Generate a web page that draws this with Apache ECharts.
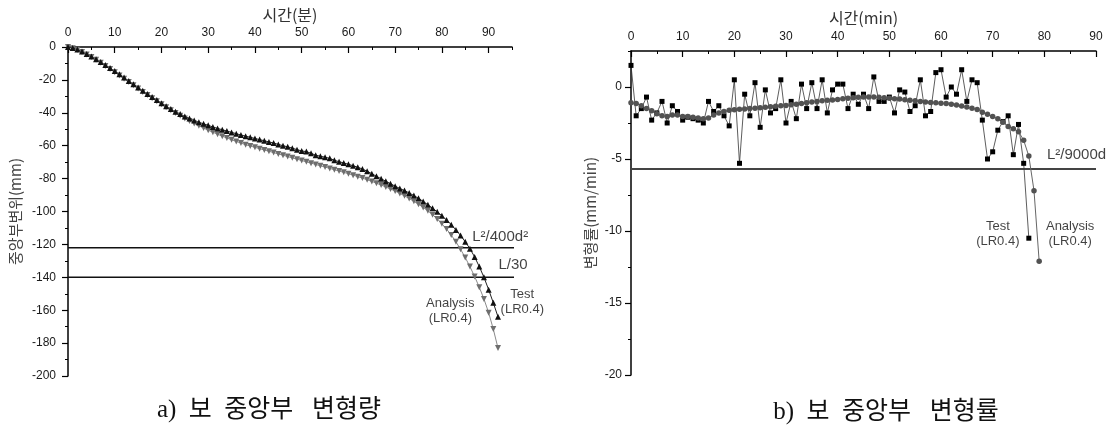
<!DOCTYPE html>
<html>
<head>
<meta charset="utf-8">
<script src="https://cdn.jsdelivr.net/npm/echarts@6/dist/echarts.min.js"></script>
<style>
  html, body { margin: 0; padding: 0; background: #fff; }
  #chart { width: 1118px; height: 430px; }
</style>
</head>
<body>
<div id="chart"></div>
<script>
// Mid-span deflection (mm), one reading per minute from t = 0
const testDeflection = [
  0, -0.6, -1.5, -2.8, -4.2, -5.8, -7.4, -9.1, -10.9, -12.8,
  -14.6, -16.6, -18.6, -20.6, -22.6, -24.6, -26.6, -28.5, -30.4, -32.2,
  -34.2, -36, -37.7, -39.3, -40.8, -42.2, -43.5, -44.7, -45.8, -46.7,
  -47.6, -48.6, -49.5, -50.3, -51.1, -51.9, -52.7, -53.5, -54.2, -54.9,
  -55.6, -56.3, -57, -57.7, -58.4, -59.2, -60, -60.7, -61.5, -62.4,
  -63.2, -63.6, -64.6, -65.8, -66.4, -67, -67.7, -68.9, -69.7, -70.5,
  -71.3, -72.2, -73.1, -74.2, -75.5, -77, -78.6, -80.1, -81.6, -83.1,
  -84.6, -86, -87.3, -88.7, -90.3, -92, -93.9, -95.9, -98, -100.2,
  -102.6, -105.2, -108, -111.2, -114.6, -118.4, -122.6, -127.6, -133.5, -140,
  -147.5, -155.5, -164
];
const analysisDeflection = [
  0, -0.7, -1.7, -3, -4.5, -6.1, -7.8, -9.6, -11.5, -13.4,
  -15.3, -17.3, -19.3, -21.3, -23.3, -25.3, -27.3, -29.2, -31.1, -33,
  -34.8, -36.6, -38.4, -40.1, -41.8, -43.4, -45, -46.5, -47.9, -49.3,
  -50.6, -51.8, -53, -54.2, -55.3, -56.4, -57.4, -58.4, -59.4, -60.2,
  -61, -61.8, -62.6, -63.4, -64.2, -65, -65.8, -66.6, -67.4, -68.2,
  -69, -69.8, -70.6, -71.4, -72.2, -73, -73.8, -74.6, -75.4, -76.2,
  -77, -77.9, -78.8, -79.7, -80.7, -81.7, -82.8, -83.9, -85.1, -86.3,
  -87.6, -89, -90.5, -92.1, -93.8, -95.6, -97.5, -99.6, -101.9, -104.5,
  -107.5, -110.7, -114.3, -118.4, -123, -128, -133.5, -139.5, -146, -153.2,
  -161.5, -171.5, -183
];

// Deflection rate (mm/min), one value per minute from t = 0
const testRate = [
  1.5, -2.0, -1.5, -0.7, -2.3, -1.8, -1.0, -2.5, -1.3, -1.7,
  -2.3, -2.1, -2.2, -2.3, -2.5, -1.0, -1.7, -1.3, -2.0, -2.7,
  0.5, -5.3, -0.5, -2.0, 0.3, -2.8, -0.2, -1.8, -1.5, 0.5,
  -2.5, -1.0, -2.2, 0.2, -1.5, 0.3, -1.5, 0.5, -1.8, -0.2,
  0.2, 0.2, -1.5, -0.5, -1.2, -0.5, -1.5, 0.7, -1.0, -1.0,
  -0.7, -1.8, -0.2, -0.35, -1.7, -1.3, 0.5, -2.0, -1.7, 1.0,
  1.2, -0.7, 0, -0.5, 1.2, -1.0, 0.5, 0.3, -2.3, -5.0,
  -4.5, -3.0, -2.4, -2.0, -4.7, -2.6, -5.3, -10.5
];
const analysisRate = [
  -1.1, -1.15, -1.3, -1.5, -1.65, -1.85, -2.0, -2.05, -1.95, -1.95,
  -2.05, -2.05, -2.1, -2.15, -2.2, -2.15, -1.95, -1.8, -1.7, -1.62,
  -1.58, -1.55, -1.52, -1.5, -1.47, -1.44, -1.4, -1.37, -1.34, -1.31,
  -1.28, -1.24, -1.2, -1.15, -1.1, -1.05, -1.0, -0.95, -0.92, -0.9,
  -0.87, -0.82, -0.78, -0.74, -0.71, -0.69, -0.69, -0.7, -0.72, -0.75,
  -0.78, -0.81, -0.84, -0.88, -0.92, -0.96, -1.0, -1.04, -1.08, -1.1,
  -1.12, -1.15, -1.2, -1.25, -1.32, -1.39, -1.47, -1.57, -1.75, -1.9,
  -2.05, -2.2, -2.45, -2.75, -2.9, -3.1, -3.7, -4.8, -7.2, -12.1
];

// Serviceability limits
const deflLimits = [
  { name: 'L²/400d²', value: -122 },
  { name: 'L/30', value: -140 }
];
const rateLimit = { name: 'L²/9000d', value: -5.7 };

// Axis ranges
const deflTimeRange = [0, 95];
const deflTimeLabelRange = [0, 90];
const deflRange = [-200, 0];
const rateTimeRange = [0, 90];
const rateRange = [-20, 2.5];
const rateLabelRange = [-20, 0];

// Panel captions
const captions = ['a)  보  중앙부   변형량', 'b)  보  중앙부   변형률'];

const LATIN = "'Liberation Sans', Arial, 'Noto Sans CJK KR', sans-serif";
const HANGUL = "'Noto Sans CJK KR', 'Liberation Sans', sans-serif";
const SERIF = "'Liberation Serif', 'DejaVu Serif', 'Noto Sans CJK KR', serif";

const byMinute = arr => arr.map((v, i) => [i, v]);

const axisLineStyle = { show: true, onZero: false, lineStyle: { color: '#000', width: 1.5 } };
const hiddenLine = { show: false, onZero: false };
const labelStyle = { color: '#1a1a1a', fontSize: 12, fontFamily: LATIN };
const nameStyle = { color: '#333', fontSize: 16, fontFamily: HANGUL };
const yNameStyle = { color: '#444', fontSize: 15, fontFamily: HANGUL };

const chart = echarts.init(document.getElementById('chart'), null, { renderer: 'canvas' });

const captionText = (text, x, y) => ({
  type: 'text', x: x, y: y, silent: true,
  style: {
    text: text, fontSize: 25, fontFamily: SERIF, fill: '#111',
    align: 'center', verticalAlign: 'middle', textAlign: 'center', textVerticalAlign: 'middle'
  }
});

const option = {
  animation: false,
  backgroundColor: '#fff',
  grid: [
    { left: 68, top: 47, width: 444, height: 329 },     // deflection plot
    { left: 68, top: 47, width: 420.6, height: 329 },   // deflection major ticks (0-90)
    { left: 631, top: 51, width: 465, height: 324 },    // rate plot
    { left: 631, top: 87, width: 465, height: 288 }     // rate major y ticks (-20..0)
  ],
  xAxis: [
    {
      gridIndex: 0, type: 'value', position: 'top',
      min: deflTimeRange[0], max: deflTimeRange[1], interval: 5,
      axisLine: axisLineStyle,
      axisTick: { inside: true, length: 3, lineStyle: { color: '#000', width: 1 } },
      axisLabel: { show: false }, splitLine: { show: false },
      name: '시간(분)', nameLocation: 'middle', nameGap: 24, nameTextStyle: nameStyle
    },
    {
      gridIndex: 1, type: 'value', position: 'top',
      min: deflTimeLabelRange[0], max: deflTimeLabelRange[1], interval: 10,
      axisLine: hiddenLine,
      axisTick: { inside: true, length: 6, lineStyle: { color: '#000', width: 1.2 } },
      axisLabel: Object.assign({ margin: 8 }, labelStyle), splitLine: { show: false }
    },
    {
      gridIndex: 2, type: 'value', position: 'top',
      min: rateTimeRange[0], max: rateTimeRange[1], interval: 10,
      axisLine: axisLineStyle,
      axisTick: { inside: true, length: 6, lineStyle: { color: '#000', width: 1.2 } },
      minorTick: { show: true, splitNumber: 2, length: 3, lineStyle: { color: '#000', width: 1 } },
      axisLabel: Object.assign({ margin: 8 }, labelStyle), splitLine: { show: false },
      name: '시간(min)', nameLocation: 'middle', nameGap: 24, nameTextStyle: nameStyle
    },
    { gridIndex: 3, type: 'value', show: false, min: rateTimeRange[0], max: rateTimeRange[1] }
  ],
  yAxis: [
    {
      gridIndex: 0, type: 'value',
      min: deflRange[0], max: deflRange[1], interval: 10,
      axisLine: axisLineStyle,
      axisTick: { inside: false, length: 3, lineStyle: { color: '#000', width: 1 } },
      axisLabel: { show: false }, splitLine: { show: false },
      name: '중앙부변위(mm)', nameLocation: 'middle', nameGap: 45, nameTextStyle: yNameStyle
    },
    {
      gridIndex: 1, type: 'value',
      min: deflRange[0], max: deflRange[1], interval: 20,
      axisLine: hiddenLine,
      axisTick: { inside: false, length: 6, lineStyle: { color: '#000', width: 1.2 } },
      axisLabel: Object.assign({ margin: 12 }, labelStyle), splitLine: { show: false }
    },
    {
      gridIndex: 2, type: 'value',
      min: rateRange[0], max: rateRange[1], interval: 2.5,
      axisLine: axisLineStyle,
      axisTick: { inside: false, length: 3, lineStyle: { color: '#000', width: 1 } },
      axisLabel: { show: false }, splitLine: { show: false },
      name: '변형률(mm/min)', nameLocation: 'middle', nameGap: 33, nameTextStyle: yNameStyle
    },
    {
      gridIndex: 3, type: 'value',
      min: rateLabelRange[0], max: rateLabelRange[1], interval: 5,
      axisLine: hiddenLine,
      axisTick: { inside: false, length: 6, lineStyle: { color: '#000', width: 1.2 } },
      axisLabel: Object.assign({ margin: 9 }, labelStyle), splitLine: { show: false }
    }
  ],
  graphic: [
    captionText(captions[0], 269, 410),
    captionText(captions[1], 886, 412)
  ],
  series: [
    // deflection limits
    ...deflLimits.map(l => ({
      type: 'line', xAxisIndex: 0, yAxisIndex: 0, clip: false, silent: true,
      symbol: 'none', lineStyle: { color: '#111', width: 1.5 },
      data: [[0, l.value], [100, l.value]]
    })),
    {
      name: 'Analysis', type: 'line', xAxisIndex: 0, yAxisIndex: 0,
      data: byMinute(analysisDeflection),
      symbol: 'triangle', symbolRotate: 180, symbolSize: 6,
      itemStyle: { color: '#6e6e6e' }, lineStyle: { color: '#8a8a8a', width: 1 }
    },
    {
      name: 'Test', type: 'line', xAxisIndex: 0, yAxisIndex: 0,
      data: byMinute(testDeflection),
      symbol: 'triangle', symbolSize: 6,
      itemStyle: { color: '#111' }, lineStyle: { color: '#222', width: 1 }
    },
    // annotations on the deflection plot
    {
      type: 'scatter', xAxisIndex: 0, yAxisIndex: 0, clip: false, silent: true,
      symbolSize: 0,
      label: { show: true, color: '#111', fontFamily: LATIN },
      data: [
        { value: [86.5, -115.4], label: { formatter: deflLimits[0].name, position: 'right', distance: 0, fontSize: 15 } },
        { value: [92.1, -132.4], label: { formatter: deflLimits[1].name, position: 'right', distance: 0, fontSize: 15 } },
        { value: [97.2, -155.2], label: { formatter: 'Test\n(LR0.4)', position: 'inside', align: 'center', fontSize: 13, lineHeight: 15 } },
        { value: [81.8, -160.4], label: { formatter: 'Analysis\n(LR0.4)', position: 'inside', align: 'center', fontSize: 13, lineHeight: 15 } }
      ]
    },
    // rate limit
    {
      type: 'line', xAxisIndex: 2, yAxisIndex: 2, clip: false, silent: true,
      symbol: 'none', lineStyle: { color: '#444', width: 2 },
      data: [[0, rateLimit.value], [90, rateLimit.value]]
    },
    {
      name: 'Test', type: 'line', xAxisIndex: 2, yAxisIndex: 2,
      data: byMinute(testRate),
      symbol: 'rect', symbolSize: 5,
      itemStyle: { color: '#000' }, lineStyle: { color: '#333', width: 0.8 }
    },
    {
      name: 'Analysis', type: 'line', xAxisIndex: 2, yAxisIndex: 2,
      data: byMinute(analysisRate),
      symbol: 'circle', symbolSize: 5.5,
      itemStyle: { color: '#525252' }, lineStyle: { color: '#666', width: 1 }
    },
    {
      type: 'scatter', xAxisIndex: 2, yAxisIndex: 2, clip: false, silent: true,
      symbolSize: 0,
      label: { show: true, color: '#111', fontFamily: LATIN },
      data: [
        { value: [80.5, -4.71], label: { formatter: rateLimit.name, position: 'right', distance: 0, fontSize: 15 } },
        { value: [71, -10.17], label: { formatter: 'Test\n(LR0.4)', position: 'inside', align: 'center', fontSize: 13, lineHeight: 15 } },
        { value: [85, -10.17], label: { formatter: 'Analysis\n(LR0.4)', position: 'inside', align: 'center', fontSize: 13, lineHeight: 15 } }
      ]
    }
  ]
};

chart.setOption(option);
</script>
</body>
</html>
